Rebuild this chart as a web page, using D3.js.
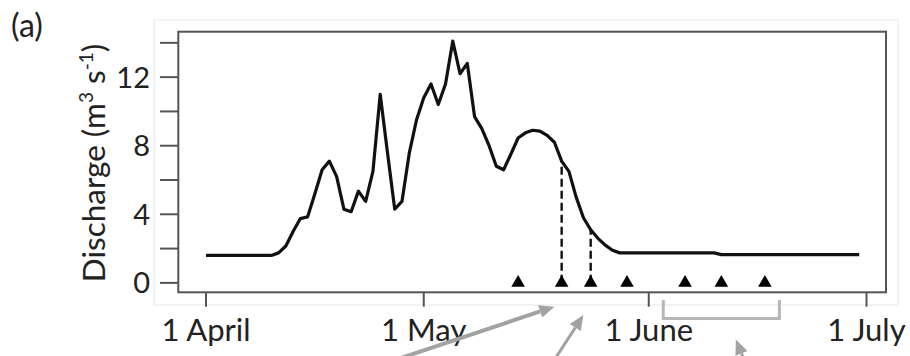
<!DOCTYPE html>
<html>
<head>
<meta charset="utf-8">
<script src="https://cdn.jsdelivr.net/npm/d3@7"></script>
<style>
    body { margin: 0; background: #fff; }
    svg { display: block; font-family: Lato, "Open Sans", sans-serif; }
</style>
</head>
<body>
<svg id="chart" width="910" height="356"></svg>
<script>
// discharge record, days counted from 1 April
const dayOffsets = [0, 9, 10, 11, 12, 13, 14, 15, 16, 17, 18, 19, 20, 21, 22, 23, 24, 25, 26, 27,
    28, 29, 30, 31, 32, 33, 34, 35, 36, 37, 38, 39, 40, 41, 42, 43, 44, 45, 46, 47, 48, 49, 50,
    51, 52, 53, 54, 55, 56, 57, 70, 71, 90];
const discharge = [1.6, 1.6, 1.75, 2.15, 3.0, 3.75, 3.85, 5.2, 6.6, 7.1, 6.2, 4.3, 4.15, 5.35, 4.75,
    6.5, 11.0, 7.6, 4.3, 4.75, 7.55, 9.5, 10.8, 11.6, 10.4, 11.6, 14.1, 12.2, 12.8, 9.7, 9.0, 8.0,
    6.8, 6.6, 7.5, 8.45, 8.75, 8.9, 8.85, 8.6, 8.2, 7.1, 6.5, 5.0, 3.8, 3.1, 2.6, 2.2, 1.9, 1.75,
    1.75, 1.65, 1.65];

// sampling dates (triangles), days from 1 April; the ones with a dashed drop line
const sampleDays = [43, 49, 53, 58, 66, 71, 77];
const droppedSamples = [49, 53];

const yTicks = [0, 2, 4, 6, 8, 10, 12, 14];
const yTickLabels = [0, 4, 8, 12];
const xTickDates = ['2000-04-01', '2000-05-01', '2000-06-01', '2000-07-01'];
const xTickLabels = ['1 April', '1 May', '1 June', '1 July'];

const svg = d3.select('#chart');
const start = new Date(2000, 3, 1);
const toDate = d => d3.timeDay.offset(start, d);
const parse = d3.timeParse('%Y-%m-%d');

const box = { left: 178.3, right: 886, top: 31.7, bottom: 292.3 };

const x = d3.scaleTime()
    .domain([start, new Date(2000, 6, 1)])
    .range([206, 866.5]);

const y = d3.scaleLinear()
    .domain([-0.55, 14.65])
    .range([box.bottom, box.top]);

const series = dayOffsets.map((d, i) => ({ date: toDate(d), value: discharge[i] }));

// faint outer frame from the scanned figure
svg.append('rect')
    .attr('x', 154).attr('y', 20)
    .attr('width', 744).attr('height', 285)
    .attr('fill', 'none')
    .attr('stroke', '#efefef')
    .attr('stroke-width', 1.5);

// panel label
svg.append('text')
    .attr('x', 11).attr('y', 37)
    .style('font-size', '32px')
    .style('fill', '#222')
    .text('(a)');

// y axis ticks + labels
svg.append('g').selectAll('line')
    .data(yTicks)
    .enter().append('line')
    .attr('x1', 160).attr('x2', box.left)
    .attr('y1', d => y(d)).attr('y2', d => y(d))
    .attr('stroke', '#555').attr('stroke-width', 2);

svg.append('g').selectAll('text')
    .data(yTickLabels)
    .enter().append('text')
    .attr('x', 150)
    .attr('y', d => y(d))
    .attr('dy', '0.36em')
    .attr('text-anchor', 'end')
    .style('font-size', '29px')
    .style('fill', '#222')
    .text(d => d);

// y axis title
const yTitle = svg.append('text')
    .attr('transform', 'translate(105,163) rotate(-90)')
    .attr('text-anchor', 'middle')
    .style('font-size', '31.5px')
    .style('fill', '#222');
yTitle.append('tspan').text('Discharge (m');
yTitle.append('tspan').attr('dy', -12).style('font-size', '19px').text('3');
yTitle.append('tspan').attr('dy', 12).text(' s');
yTitle.append('tspan').attr('dy', -12).style('font-size', '19px').text('-1');
yTitle.append('tspan').attr('dy', 12).text(')');

// x axis ticks + labels
svg.append('g').selectAll('line')
    .data(xTickDates)
    .enter().append('line')
    .attr('x1', d => x(parse(d))).attr('x2', d => x(parse(d)))
    .attr('y1', box.bottom).attr('y2', 306.7)
    .attr('stroke', '#555').attr('stroke-width', 2);

svg.append('g').selectAll('text')
    .data(xTickDates)
    .enter().append('text')
    .attr('x', d => x(parse(d)))
    .attr('y', 341)
    .attr('text-anchor', 'middle')
    .style('font-size', '31px')
    .style('fill', '#222')
    .text((d, i) => xTickLabels[i]);

// plot box
svg.append('rect')
    .attr('x', box.left).attr('y', box.top)
    .attr('width', box.right - box.left)
    .attr('height', box.bottom - box.top)
    .attr('fill', 'none')
    .attr('stroke', '#555')
    .attr('stroke-width', 2);

// value of the hydrograph on a given day (linear between readings)
const valueAt = day => {
    const i = d3.bisectRight(dayOffsets, day);
    if (i <= 0) return discharge[0];
    if (i >= dayOffsets.length) return discharge[discharge.length - 1];
    const d0 = dayOffsets[i - 1], d1 = dayOffsets[i];
    const t = (day - d0) / (d1 - d0);
    return discharge[i - 1] + t * (discharge[i] - discharge[i - 1]);
};

// dashed drop lines
svg.append('g').selectAll('line')
    .data(droppedSamples)
    .enter().append('line')
    .attr('x1', d => x(toDate(d))).attr('x2', d => x(toDate(d)))
    .attr('y1', y(0)).attr('y2', d => y(valueAt(d)))
    .attr('stroke', '#111')
    .attr('stroke-width', 2.4)
    .attr('stroke-dasharray', '8,4');

// hydrograph
const line = d3.line()
    .x(d => x(d.date))
    .y(d => y(d.value));

svg.append('path')
    .datum(series)
    .attr('d', line)
    .attr('fill', 'none')
    .attr('stroke', '#111')
    .attr('stroke-width', 3.2)
    .attr('stroke-linejoin', 'round');

// sampling triangles
svg.append('g').selectAll('path')
    .data(sampleDays)
    .enter().append('path')
    .attr('transform', d => `translate(${x(toDate(d))},${y(0)})`)
    .attr('d', d3.symbol(d3.symbolTriangle, 80))
    .attr('fill', '#000');

// grey annotations that belong to the wider figure
const arrows = [
    { tipDay: 48.1, tipY: 306.7, tailX: 395, tailY: 360, width: 4 },
    { tipDay: 52.6, tipY: 315, tailX: 553, tailY: 362, width: 3 },
    { tipDay: 73.8, tipY: 339.5, tailX: 745, tailY: 362, width: 3 }
];

const arrowG = svg.append('g').attr('fill', '#a2a2a2').attr('stroke', '#a2a2a2');
arrows.forEach(a => {
    const tx = x(toDate(a.tipDay)), ty = a.tipY;
    const ang = Math.atan2(ty - a.tailY, tx - a.tailX);
    const len = 15, half = 6.5;
    const bx = tx - len * Math.cos(ang), by = ty - len * Math.sin(ang);
    arrowG.append('line')
        .attr('x1', a.tailX).attr('y1', a.tailY)
        .attr('x2', bx).attr('y2', by)
        .attr('stroke-width', a.width);
    arrowG.append('path')
        .attr('stroke', 'none')
        .attr('d', `M${tx},${ty}L${bx - half * Math.sin(ang)},${by + half * Math.cos(ang)}` +
            `L${bx + half * Math.sin(ang)},${by - half * Math.cos(ang)}Z`);
});

// bracket under the late-season samples
const bracketDays = [63.1, 79.4];
svg.append('path')
    .attr('d', `M${x(toDate(bracketDays[0]))},300V318.5H${x(toDate(bracketDays[1]))}V300`)
    .attr('fill', 'none')
    .attr('stroke', '#b6b6b6')
    .attr('stroke-width', 3);
</script>
</body>
</html>
